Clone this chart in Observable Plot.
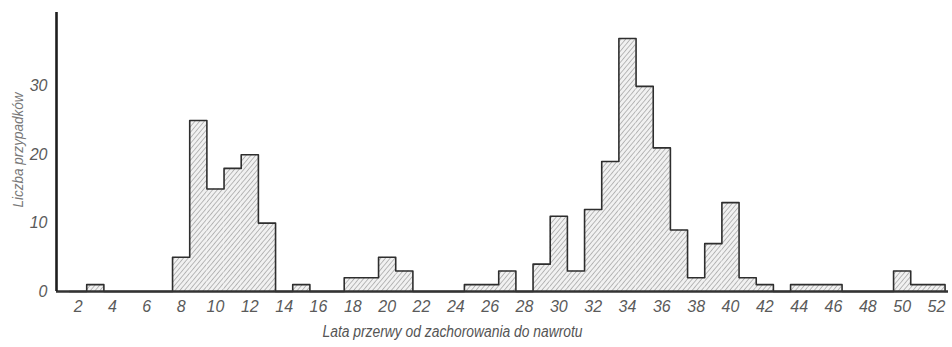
<!DOCTYPE html>
<html>
<head>
<meta charset="utf-8">
<script src="https://cdn.jsdelivr.net/npm/d3@7"></script>
<script src="https://cdn.jsdelivr.net/npm/@observablehq/plot@0.6"></script>
<style>
  html, body { margin: 0; padding: 0; background: #fff; }
  #chart svg { display: block; }
  #chart text { font-family: "Liberation Sans Narrow", "Liberation Sans", Arial, sans-serif; font-style: italic; }
</style>
</head>
<body>
<div id="chart"></div>
<script>
// Years (bins of one year) and number of cases
const years  = [2,3,4,5,6,7,8,9,10,11,12,13,14,15,16,17,18,19,20,21,22,23,24,25,26,27,28,29,30,31,32,33,34,35,36,37,38,39,40,41,42,43,44,45,46,47,48,49,50,51,52];
const counts = [0,1,0,0,0,0,5,25,15,18,20,10,0,1,0,0,2,2,5,3,0,0,0,1,1,3,0,4,11,3,12,19,37,30,21,9,2,7,13,2,1,0,1,1,1,0,0,0,3,1,1];
const xTicks = [2,4,6,8,10,12,14,16,18,20,22,24,26,28,30,32,34,36,38,40,42,44,46,48,50,52];
const yTicks = [0,10,20,30];
const xLabel = "Lata przerwy od zachorowania do nawrotu";
const yLabel = "Liczba przypadków";

const bars = years.map((y, i) => ({year: y, count: counts[i]}));
// outline of the histogram (step contour)
const outline = [{x: years[0] - 0.5, y: 0}]
  .concat(bars.map(d => ({x: d.year - 0.5, y: d.count})))
  .concat([{x: years[years.length - 1] + 0.5, y: 0}]);

const plot = Plot.plot({
  width: 952,
  height: 347,
  marginLeft: 56,
  marginRight: 4,
  marginTop: 12,
  marginBottom: 56,
  style: {background: "#fff", overflow: "visible"},
  x: {domain: [0.74, 52.7]},
  y: {domain: [0, 40.8]},
  marks: [
    Plot.rectY(bars.filter(d => d.count > 0), {x1: d => d.year - 0.5, x2: d => d.year + 0.5, y: "count", fill: "url(#hatch)", inset: 0}),
    Plot.line(outline, {x: "x", y: "y", curve: "step-after", stroke: "#2e2e2e", strokeWidth: 1.6}),
    Plot.ruleY([0], {stroke: "#333", strokeWidth: 2.6}),
    Plot.ruleX([0.74], {stroke: "#1e1e1e", strokeWidth: 2.6}),
    Plot.axisX(xTicks, {tickSize: 0, tickPadding: 9, fontSize: 16, fill: "#5a5a5a", label: null, fontStyle: "italic"}),
    Plot.axisY(yTicks, {tickSize: 0, tickPadding: 9, fontSize: 16, fill: "#5a5a5a", label: null, fontStyle: "italic"}),
    Plot.text([xLabel], {frameAnchor: "bottom", dy: 45, dx: -50, fontSize: 16, fill: "#555", fontStyle: "italic", className: "xlab"}),
    Plot.text([yLabel], {frameAnchor: "left", textAnchor: "middle", dx: -38, dy: -2, rotate: -90, fontSize: 14, fill: "#777", fontStyle: "italic", className: "ylab"})
  ]
});

const defs = `<defs><pattern id="hatch" patternUnits="userSpaceOnUse" width="3.6" height="3.6" patternTransform="rotate(40)">
<rect width="3.6" height="3.6" fill="#f1f1f1"/>
<line x1="0" y1="0" x2="0" y2="3.6" stroke="#8a8a8a" stroke-width="1.1"/>
</pattern></defs>`;
plot.insertAdjacentHTML("afterbegin", defs);
// compress axis titles to the narrow width of the original typeface
plot.querySelectorAll(".xlab text").forEach(t => { t.setAttribute("textLength", 260); t.setAttribute("lengthAdjust", "spacingAndGlyphs"); });
plot.querySelectorAll(".ylab text").forEach(t => { t.setAttribute("textLength", 115); t.setAttribute("lengthAdjust", "spacingAndGlyphs"); });
document.getElementById("chart").appendChild(plot);
</script>
</body>
</html>
